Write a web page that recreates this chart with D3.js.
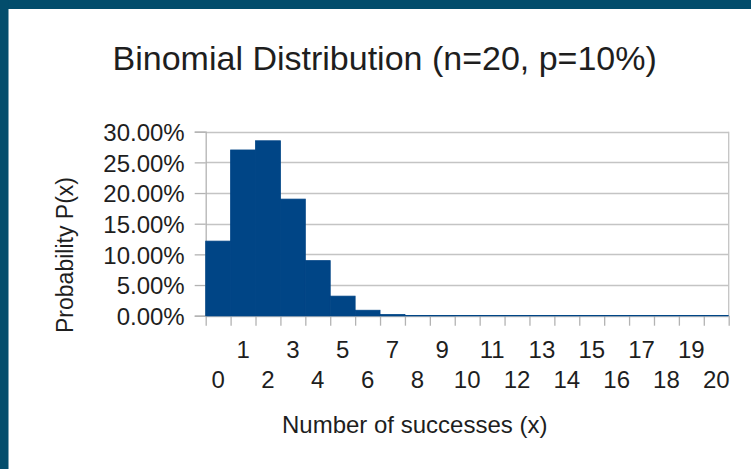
<!DOCTYPE html>
<html>
<head>
<meta charset="utf-8">
<script src="https://cdn.jsdelivr.net/npm/d3@7"></script>
<style>
  html, body { margin: 0; padding: 0; background: #ffffff; }
  svg { display: block; }
  text { font-family: "Liberation Sans", Arial, sans-serif; fill: #1e1e1e; }
</style>
</head>
<body>
<svg id="chart" width="751" height="469"></svg>
<script>
// Number of successes x for a binomial distribution with n = 20, p = 0.1
const successes = d3.range(0, 21);
// P(x) for each x (as fractions)
const probabilities = [
  0.1216, 0.2702, 0.2852, 0.1901, 0.0898, 0.0319, 0.0089, 0.0020,
  0.0004, 0.0001, 0, 0, 0, 0, 0, 0, 0, 0, 0, 0, 0
];
const yTicks = [0, 0.05, 0.10, 0.15, 0.20, 0.25, 0.30];

const titleText = "Binomial Distribution (n=20, p=10%)";
const xTitle = "Number of successes (x)";
const yTitle = "Probability P(x)";

const W = 751, H = 469;
const plot = { left: 205.7, right: 728.7, top: 131.7, bottom: 315.7 };
const barColor = "#004586";
const gridColor = "#c4c4c4";
const axisColor = "#b3b3b3";

const svg = d3.select("#chart");

// frame: white page with a dark teal band along top and left
svg.append("rect").attr("width", W).attr("height", H).attr("fill", "#ffffff");
svg.append("rect").attr("x", 0).attr("y", 0).attr("width", W).attr("height", 9).attr("fill", "#034d6c");
svg.append("rect").attr("x", 0).attr("y", 0).attr("width", 8.5).attr("height", H).attr("fill", "#034d6c");

const x = d3.scaleBand().domain(successes).range([plot.left, plot.right]).padding(0);
const xEdge = d3.scaleLinear().domain([0, successes.length]).range([plot.left, plot.right]);
const y = d3.scaleLinear().domain([0, 0.30]).range([plot.bottom, plot.top]);

// horizontal gridlines
svg.append("g")
  .selectAll("line")
  .data(yTicks)
  .join("line")
  .attr("x1", plot.left).attr("x2", plot.right)
  .attr("y1", d => Math.round(y(d)) + 0.5).attr("y2", d => Math.round(y(d)) + 0.5)
  .attr("stroke", gridColor).attr("stroke-width", 1.3);

// right border of the plot area
svg.append("line")
  .attr("x1", plot.right).attr("x2", plot.right)
  .attr("y1", plot.top).attr("y2", plot.bottom)
  .attr("stroke", gridColor).attr("stroke-width", 1.3);

// y axis
const yAxis = svg.append("g")
  .attr("transform", `translate(${plot.left},0)`)
  .call(d3.axisLeft(y).tickValues(yTicks).tickFormat(d3.format(".2%")).tickSize(11).tickPadding(10));
yAxis.select(".domain").attr("stroke", axisColor).attr("stroke-width", 1.3);
yAxis.selectAll(".tick line").attr("stroke", axisColor).attr("stroke-width", 1.3);
yAxis.selectAll(".tick text")
  .attr("font-size", 24)
  .attr("font-family", "Liberation Sans, Arial, sans-serif")
  .attr("fill", "#1e1e1e")
  .attr("dy", "0.36em");

// bars (outlined in their own colour so adjacent bars join seamlessly)
svg.append("g")
  .selectAll("rect")
  .data(successes.filter(d => probabilities[d] > 0))
  .join("rect")
  .attr("x", d => x(d))
  .attr("width", x.bandwidth())
  .attr("y", d => y(probabilities[d]))
  .attr("height", d => y(0) - y(probabilities[d]))
  .attr("fill", barColor)
  .attr("stroke", barColor)
  .attr("stroke-width", 0.8);

// x axis: tick marks at the bar boundaries
const xTickAxis = svg.append("g")
  .attr("transform", `translate(0,${plot.bottom})`)
  .call(d3.axisBottom(xEdge).tickValues(d3.range(0, successes.length + 1)).tickFormat("").tickSize(10));
xTickAxis.select(".domain").remove();
xTickAxis.selectAll(".tick line").attr("stroke", axisColor).attr("stroke-width", 1.3);

// zero line of the series along the baseline
svg.append("line")
  .attr("x1", plot.left).attr("x2", plot.right)
  .attr("y1", y(0)).attr("y2", y(0))
  .attr("stroke", barColor).attr("stroke-width", 1.2);

// category labels, staggered: odd values on the upper row, even on the lower row
const xLabels = svg.append("g")
  .attr("transform", `translate(0,${plot.bottom})`)
  .call(d3.axisBottom(x).tickSize(0).tickPadding(0));
xLabels.select(".domain").remove();
xLabels.selectAll(".tick text")
  .attr("font-size", 24)
  .attr("font-family", "Liberation Sans, Arial, sans-serif")
  .attr("fill", "#1e1e1e")
  .attr("dy", null)
  .attr("y", d => d % 2 === 1 ? 42.6 : 72.6);

// titles
svg.append("text")
  .attr("x", 384.7).attr("y", 70)
  .attr("text-anchor", "middle")
  .attr("font-size", 34)
  .text(titleText);

svg.append("text")
  .attr("x", 414.7).attr("y", 433)
  .attr("text-anchor", "middle")
  .attr("font-size", 24)
  .text(xTitle);

svg.append("text")
  .attr("transform", "translate(73,255) rotate(-90)")
  .attr("text-anchor", "middle")
  .attr("font-size", 23)
  .text(yTitle);
</script>
</body>
</html>
